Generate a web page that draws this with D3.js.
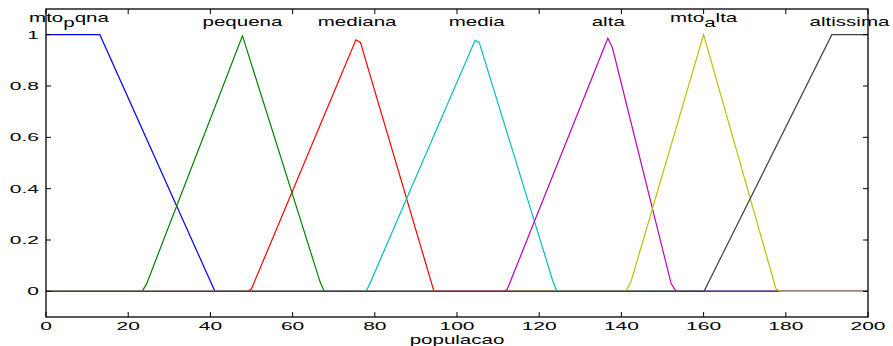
<!DOCTYPE html>
<html>
<head>
<meta charset="utf-8">
<script src="https://cdn.jsdelivr.net/npm/d3@7"></script>
<style>
  body { margin: 0; background: #fff; }
  text { font-family: "Liberation Sans", Arial, sans-serif; fill: #000; }
</style>
</head>
<body>
<figure id="mfChart" style="margin:0"></figure>
<script>
// tick labels
const xTicks = [0, 20, 40, 60, 80, 100, 120, 140, 160, 180, 200];
const yTicks = [0, 0.2, 0.4, 0.6, 0.8, 1];

// membership functions, [populacao, grau] vertices
const mtoPqna = [[0, 1], [13.1, 1], [41.1, 0], [200, 0]];
const pequena = [[0, 0], [23.4, 0], [24.5, 0.03], [47.8, 0.996], [66.7, 0.036], [67.7, 0], [200, 0]];
const mediana = [[0, 0], [49.2, 0], [50.0, 0.01], [75.4, 0.98], [76.5, 0.97], [94.4, 0], [200, 0]];
const media = [[0, 0], [77.9, 0], [78.8, 0.03], [104.4, 0.978], [105.4, 0.97], [123.4, 0.036], [124.3, 0], [200, 0]];
const alta = [[0, 0], [111.4, 0], [112.2, 0.007], [136.7, 0.986], [137.8, 0.95], [152.1, 0.03], [153.3, 0], [200, 0]];
const mtoAlta = [[0, 0], [141.1, 0], [142.3, 0.036], [160, 1], [177.6, 0.01], [178.6, 0], [200, 0]];
const altissima = [[0, 0], [160.1, 0], [191.2, 1], [200, 1]];

// label text (main part, subscript, rest) and where each label sits
const mfNames = [['mto', 'p', 'qna'], ['pequena'], ['mediana'], ['media'], ['alta'], ['mto', 'a', 'lta'], ['altissima']];
const labelX = [5.6, 47.8, 75.7, 104.8, 136.8, 160, 195.5];
const mfColors = ['#0000ff', '#008000', '#ff0000', '#00bfbf', '#bf00bf', '#bfbf00', '#404040'];
const mfSeries = [mtoPqna, pequena, mediana, media, alta, mtoAlta, altissima];

const width = 893;
const height = 346;
const margin = { top: 9, right: 25, bottom: 29, left: 46 };
const sx = 1.58;   // the original font is drawn wide
const tickSx = 2.1;

const svg = d3.select('figure#mfChart')
  .append('svg')
  .attr('width', width)
  .attr('height', height);

const x = d3.scaleLinear()
  .domain([0, 200])
  .range([margin.left, width - margin.right]);

const y = d3.scaleLinear()
  .domain([-0.1, 1.1])
  .range([height - margin.bottom, margin.top]);

// membership lines
const line = d3.line()
  .x(d => x(d[0]))
  .y(d => y(d[1]));

svg.selectAll('path.mf')
  .data(mfSeries)
  .enter()
  .append('path')
  .attr('class', 'mf')
  .attr('d', line)
  .attr('fill', 'none')
  .attr('stroke', (d, i) => mfColors[i])
  .attr('stroke-width', 1.2);

// box with inward ticks on all four sides
const x0 = x.range()[0], x1 = x.range()[1];
const yb = y.range()[0], yt = y.range()[1];
const tick = 5;

svg.append('rect')
  .attr('x', x0)
  .attr('y', yt)
  .attr('width', x1 - x0)
  .attr('height', yb - yt)
  .attr('fill', 'none')
  .attr('stroke', '#000')
  .attr('stroke-width', 1.3);

xTicks.forEach(v => {
  svg.append('line').attr('x1', x(v)).attr('x2', x(v)).attr('y1', yb).attr('y2', yb - tick).attr('stroke', '#000');
  svg.append('line').attr('x1', x(v)).attr('x2', x(v)).attr('y1', yt).attr('y2', yt + tick).attr('stroke', '#000');
  svg.append('text')
    .attr('transform', 'translate(' + x(v) + ',' + (yb + 13) + ') scale(' + tickSx + ',1)')
    .attr('text-anchor', 'middle')
    .style('font-size', '10px')
    .text(v);
});

yTicks.forEach(v => {
  svg.append('line').attr('x1', x0).attr('x2', x0 + tick).attr('y1', y(v)).attr('y2', y(v)).attr('stroke', '#000');
  svg.append('line').attr('x1', x1).attr('x2', x1 - tick).attr('y1', y(v)).attr('y2', y(v)).attr('stroke', '#000');
  svg.append('text')
    .attr('transform', 'translate(' + (x0 - 7) + ',' + (y(v) + 4) + ') scale(' + tickSx + ',1)')
    .attr('text-anchor', 'end')
    .style('font-size', '10px')
    .text(v);
});

// x axis title
svg.append('text')
  .attr('transform', 'translate(' + x(100) + ',' + 344 + ') scale(' + sx + ',1)')
  .attr('text-anchor', 'middle')
  .style('font-size', '13px')
  .text('populacao');

// mf labels above each peak, subscripts like the TeX interpreter does
mfNames.forEach((parts, i) => {
  const base = parts.length > 1 ? 21.5 : 26;
  const t = svg.append('text')
    .attr('transform', 'translate(' + x(labelX[i]) + ',' + base + ') scale(' + sx + ',1)')
    .attr('text-anchor', 'middle')
    .style('font-size', '13px');
  t.append('tspan').text(parts[0]);
  if (parts.length > 1) {
    t.append('tspan').attr('dy', 5).text(parts[1]);
    t.append('tspan').attr('dy', -5).text(parts[2]);
  }
});
</script>
</body>
</html>
